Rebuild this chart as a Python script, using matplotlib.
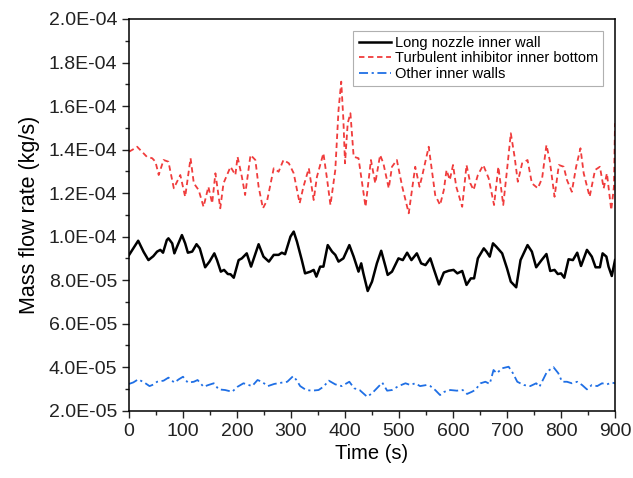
import matplotlib
matplotlib.use("Agg")
import matplotlib.pyplot as plt
from matplotlib.ticker import MultipleLocator, FuncFormatter

plt.rcParams['font.family'] = ['Liberation Sans', 'DejaVu Sans']

# values in units of 1e-5 kg/s
t_nozzle = [0, 9, 17, 27, 36, 45, 52, 58, 63, 70,
            73, 80, 84, 89, 98, 104, 109, 117, 125, 131,
            141, 149, 158, 163, 170, 176, 183, 188, 194, 203,
            209, 218, 226, 240, 249, 259, 268, 277, 283, 289,
            299, 305, 311, 320, 326, 336, 342, 347, 354, 360,
            368, 376, 382, 388, 397, 408, 416, 425, 430, 434,
            442, 450, 459, 467, 475, 479, 487, 499, 507, 515,
            523, 533, 541, 549, 558, 564, 574, 583, 592, 601,
            608, 617, 625, 633, 639, 646, 657, 662, 668, 674,
            680, 691, 700, 707, 717, 725, 738, 746, 754, 764,
            773, 780, 788, 794, 800, 806, 814, 822, 830, 837,
            848, 857, 864, 872, 877, 884, 888, 894, 900]
nozzle = [9.15, 9.5, 9.81, 9.3, 8.92, 9.1, 9.31, 9.39, 9.26, 9.84,
          9.92, 9.69, 9.23, 9.54, 10.07, 9.69, 9.26, 9.31, 9.65, 9.46,
          8.59, 8.85, 9.23, 8.92, 8.39, 8.47, 8.28, 8.27, 8.11, 8.92,
          9.0, 9.23, 8.62, 9.65, 9.08, 8.85, 9.16, 9.16, 9.26, 9.19,
          10.0, 10.23, 9.77, 8.92, 8.31, 8.39, 8.47, 8.16, 8.62, 8.62,
          9.61, 9.31, 9.16, 8.85, 9.0, 9.61, 9.08, 8.39, 8.77, 8.31,
          7.5, 7.93, 8.77, 9.35, 8.62, 8.24, 8.39, 9.0, 8.92, 9.26,
          8.92, 9.23, 8.77, 8.69, 9.0, 8.54, 7.8, 8.35, 8.43, 8.47,
          8.31, 8.42, 7.78, 8.08, 8.08, 9.0, 9.46, 9.31, 9.08, 9.69,
          9.54, 9.23, 8.54, 7.93, 7.67, 8.92, 9.61, 9.31, 8.59, 8.92,
          9.2, 8.42, 8.47, 8.28, 8.31, 8.11, 8.96, 8.92, 9.26, 8.65,
          9.39, 9.08, 8.59, 8.59, 9.23, 9.08, 8.62, 8.19, 8.92]

t_inhibitor = [0, 7, 15, 24, 33, 43, 49, 55, 64, 73,
               83, 95, 104, 114, 120, 129, 138, 147, 154, 160,
               169, 175, 188, 197, 201, 209, 215, 225, 234, 240,
               248, 256, 268, 277, 286, 296, 305, 316, 323, 333,
               342, 348, 360, 367, 373, 382, 388, 393, 397, 400,
               405, 410, 416, 425, 438, 448, 456, 465, 471, 481,
               487, 496, 506, 518, 530, 538, 544, 555, 567, 576,
               583, 588, 594, 600, 606, 617, 625, 632, 638, 646,
               656, 666, 676, 684, 693, 700, 707, 714, 720, 728,
               738, 746, 757, 765, 773, 779, 788, 796, 805, 811,
               820, 828, 836, 842, 853, 863, 872, 879, 885, 893,
               898, 900]
inhibitor = [13.9, 14.0, 14.13, 13.9, 13.67, 13.6, 13.44, 12.83, 13.52, 13.44,
             12.22, 12.83, 11.83, 13.6, 12.45, 12.14, 11.37, 12.29, 11.53, 12.91,
             11.30, 12.45, 13.21, 12.83, 13.67, 12.75, 11.91, 13.75, 13.52, 12.29,
             11.30, 11.68, 13.14, 12.98, 13.52, 13.37, 12.91, 11.53, 12.29, 13.14,
             11.68, 12.75, 13.83, 12.60, 11.45, 13.06, 15.82, 17.12, 15.36, 13.37,
             15.21, 15.67, 13.67, 13.6, 11.37, 13.52, 12.45, 13.75, 13.37, 12.22,
             13.21, 13.52, 12.29, 11.07, 13.21, 12.29, 12.91, 14.13, 11.91, 11.45,
             12.14, 13.06, 12.6, 13.29, 12.29, 11.37, 13.29, 12.45, 12.14, 12.83,
             13.29, 12.68, 11.45, 13.21, 11.45, 13.06, 14.75, 13.67, 12.52, 13.37,
             13.52, 12.45, 12.22, 12.68, 14.21, 13.52, 11.83, 13.29, 13.21, 12.6,
             12.06, 13.21, 14.06, 12.91, 11.83, 13.06, 13.21, 12.22, 12.91, 11.22,
             12.29, 15.21]

t_other = [0, 8, 17, 28, 38, 45, 52, 64, 73, 84,
           92, 100, 109, 120, 127, 138, 147, 157, 166, 178,
           191, 201, 212, 218, 228, 238, 246, 257, 269, 283,
           293, 304, 310, 317, 328, 339, 351, 360, 370, 382,
           394, 408, 417, 427, 441, 450, 459, 469, 478, 487,
           499, 512, 521, 530, 539, 551, 558, 567, 576, 584,
           595, 607, 618, 626, 635, 641, 651, 660, 668, 675,
           681, 691, 703, 711, 719, 731, 743, 754, 760, 768,
           774, 786, 795, 802, 811, 820, 830, 839, 848, 857,
           867, 876, 885, 894, 900]
other = [3.23, 3.3, 3.44, 3.3, 3.13, 3.2, 3.33, 3.38, 3.52, 3.29,
         3.44, 3.56, 3.29, 3.33, 3.41, 3.10, 3.18, 3.26, 2.98, 2.95,
         2.87, 3.10, 3.26, 3.21, 3.13, 3.41, 3.33, 3.13, 3.23, 3.29,
         3.33, 3.59, 3.41, 3.13, 2.95, 2.92, 2.95, 3.10, 3.38, 3.21,
         3.13, 3.33, 3.03, 2.95, 2.64, 2.80, 3.03, 3.29, 2.92, 2.95,
         3.13, 3.26, 3.18, 3.26, 3.13, 3.18, 3.13, 2.95, 2.72, 2.87,
         2.95, 2.92, 2.95, 2.77, 2.87, 2.95, 3.26, 3.33, 3.23, 3.87,
         3.72, 3.95, 4.02, 3.72, 3.33, 3.18, 3.13, 3.26, 3.10, 3.49,
         3.79, 4.0, 3.72, 3.33, 3.33, 3.26, 3.33, 3.18, 2.98, 3.18,
         3.13, 3.26, 3.21, 3.29, 3.26]

labels = ["Long nozzle inner wall", "Turbulent inhibitor inner bottom", "Other inner walls"]

fig = plt.figure(figsize=(6.33, 4.78), dpi=100)
ax = fig.add_axes([0.2038, 0.1408, 0.7678, 0.8195])

ax.plot(t_nozzle, [v * 1e-5 for v in nozzle], color='black', lw=1.8, label=labels[0])
ax.plot(t_inhibitor, [v * 1e-5 for v in inhibitor], color='#f03c3c', lw=1.3,
        ls=(0, (3, 2)), label=labels[1])
ax.plot(t_other, [v * 1e-5 for v in other], color='#1f6fe5', lw=1.3,
        ls=(0, (5, 2, 1.2, 2)), label=labels[2])

ax.set_xlim(0, 900)
ax.set_ylim(2e-5, 2e-4)
ax.xaxis.set_major_locator(MultipleLocator(100))
ax.xaxis.set_minor_locator(MultipleLocator(50))
ax.yaxis.set_major_locator(MultipleLocator(2e-5))
ax.yaxis.set_minor_locator(MultipleLocator(1e-5))

def sci_fmt(y, pos):
    m, e = f"{y:.1E}".split("E")
    return f"{m}E{int(e):+03d}".replace("+", "")

ax.yaxis.set_major_formatter(FuncFormatter(sci_fmt))
ax.tick_params(which='both', direction='out', top=False, right=False,
               labelsize=14, width=1.0, colors='#222222')
ax.tick_params(which='major', length=5)
ax.tick_params(which='minor', length=3)
for s in ax.spines.values():
    s.set_linewidth(1.1)

ax.set_xlabel("Time (s)", fontsize=14.5, labelpad=3)
ax.set_ylabel("Mass flow rate (kg/s)", fontsize=15.5, labelpad=6)

leg = ax.legend(loc='upper right', fontsize=10.5, fancybox=False, framealpha=1,
                edgecolor='#b0b0b0', handlelength=2.2, handletextpad=0.3,
                labelspacing=0.1, borderaxespad=0.8, borderpad=0.35)
leg.get_frame().set_linewidth(0.8)

fig.savefig("out.png", dpi=100)
